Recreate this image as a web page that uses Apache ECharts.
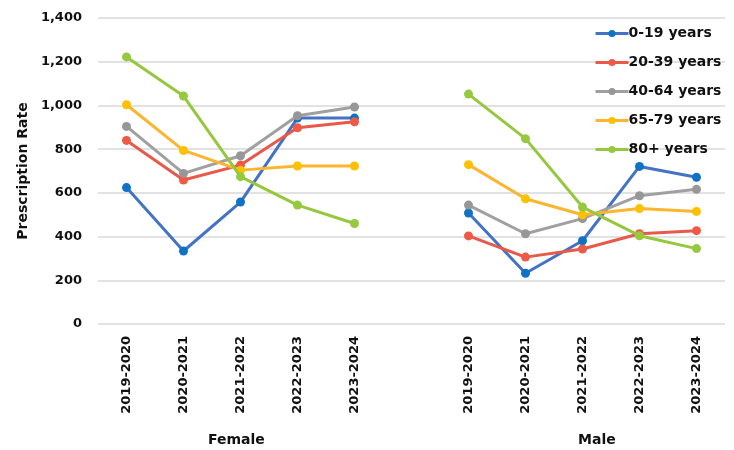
<!DOCTYPE html>
<html>
<head>
<meta charset="utf-8">
<title>Prescription Rate by Age Group and Sex</title>
<script src="https://cdn.jsdelivr.net/npm/echarts@6/dist/echarts.min.js"></script>
<style>
  html, body { margin: 0; padding: 0; background: #fff; }
  #chart { width: 734px; height: 450px; }
</style>
</head>
<body>
<div id="chart"></div>
<script>
// Financial years shown within each sex group
const years = ['2019-2020', '2020-2021', '2021-2022', '2022-2023', '2023-2024'];
const groups = ['Female', 'Male'];
const seriesNames = ['0-19 years', '20-39 years', '40-64 years', '65-79 years', '80+ years'];

// Prescription rate, female
const female0to19 = [624, 334, 558, 942, 942];
const female20to39 = [840, 659, 727, 898, 925];
const female40to64 = [904, 689, 770, 953, 993];
const female65to79 = [1003, 794, 704, 723, 723];
const female80plus = [1222, 1043, 674, 544, 460];

// Prescription rate, male
const male0to19 = [508, 232, 381, 721, 671];
const male20to39 = [403, 306, 343, 413, 427];
const male40to64 = [544, 413, 482, 587, 616];
const male65to79 = [729, 573, 500, 528, 515];
const male80plus = [1052, 848, 535, 404, 345];

// Y axis ticks
const yTicks = [0, 200, 400, 600, 800, 1000, 1200, 1400];

const femaleSets = [female0to19, female20to39, female40to64, female65to79, female80plus];
const maleSets = [male0to19, male20to39, male40to64, male65to79, male80plus];

const lineColors = ['#4472C4', '#E8594A', '#A0A0A0', '#FBB52F', '#95C83E'];
const markerColors = ['#0E72C6', '#EE5A46', '#979797', '#FFC000', '#96C93D'];

// One empty slot separates the two groups, so the lines break there
const categories = years.concat(['']).concat(years);

const FONT = 'DejaVu Sans';

const chart = echarts.init(document.getElementById('chart'), null, { renderer: 'canvas' });

const series = seriesNames.map((name, i) => ({
  name: name,
  type: 'line',
  data: femaleSets[i].concat([null]).concat(maleSets[i]),
  connectNulls: false,
  symbol: 'circle',
  symbolSize: 9,
  lineStyle: { width: 3, color: lineColors[i] },
  itemStyle: { color: markerColors[i] },
  emphasis: { disabled: true },
  z: 2 + i
}));

chart.setOption({
  animation: false,
  textStyle: { fontFamily: FONT },
  grid: { left: 98, right: 9, top: 18, bottom: 126, containLabel: false },
  legend: {
    orient: 'vertical',
    left: 589,
    top: 21,
    itemWidth: 33,
    itemHeight: 9,
    itemGap: 14,
    data: seriesNames.map((n, i) => ({
      name: n,
      itemStyle: { color: markerColors[i] },
      lineStyle: { color: lineColors[i], width: 3 }
    })),
    textStyle: { fontFamily: FONT, fontWeight: 'bold', fontSize: 14, lineHeight: 15, color: '#111', padding: [0, 0, 0, -5] }
  },
  xAxis: {
    type: 'category',
    data: categories,
    boundaryGap: true,
    axisLine: { show: false },
    axisTick: { show: false },
    axisLabel: {
      interval: 0,
      rotate: 90,
      margin: 12,
      fontFamily: FONT,
      fontWeight: 'bold',
      fontSize: 13,
      color: '#111'
    }
  },
  yAxis: {
    type: 'value',
    min: 0,
    max: yTicks[yTicks.length - 1],
    interval: yTicks[1] - yTicks[0],
    name: 'Prescription Rate',
    nameLocation: 'middle',
    nameGap: 60,
    nameRotate: 90,
    nameTextStyle: { fontFamily: FONT, fontWeight: 'bold', fontSize: 14, color: '#111' },
    axisLine: { show: false },
    axisTick: { show: false },
    splitLine: { lineStyle: { color: '#D9D9D9', width: 1.5 } },
    axisLabel: {
      margin: 16,
      fontFamily: FONT,
      fontWeight: 'bold',
      fontSize: 13,
      color: '#111',
      formatter: v => v.toLocaleString('en-US')
    }
  },
  // Group captions under the year labels
  graphic: [
    {
      type: 'text', left: 208, top: 433,
      style: { text: groups[0], fontFamily: FONT, fontWeight: 'bold', fontSize: 14, fill: '#111' }
    },
    {
      type: 'text', left: 578, top: 433,
      style: { text: groups[1], fontFamily: FONT, fontWeight: 'bold', fontSize: 14, fill: '#111' }
    }
  ],
  series: series
});
</script>
</body>
</html>
